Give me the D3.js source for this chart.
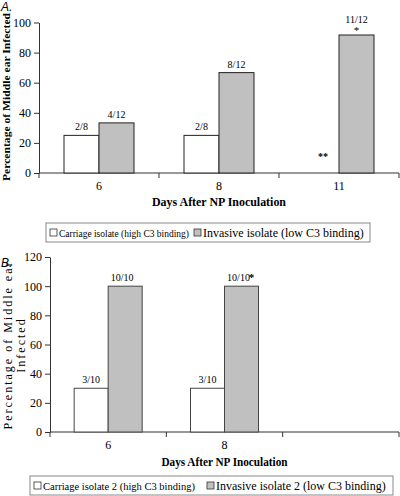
<!DOCTYPE html>
<html><head><meta charset="utf-8">
<script src="https://cdn.jsdelivr.net/npm/d3@7"></script>
<style>body{margin:0;background:#fff}svg{display:block}text{font-family:"Liberation Serif","Times New Roman",serif;fill:#000}</style>
</head><body>
<script>
// ---- Data ----
const catsA = ["6", "8", "11"];
const carriageA = [25, 25, null];
const invasiveA = [33.3, 66.7, 91.7];
const carriageLabelsA = ["2/8", "2/8", ""];
const invasiveLabelsA = ["4/12", "8/12", "11/12"];
const yTicksA = [0, 20, 40, 60, 80, 100];

const catsB = ["6", "8", ""];
const carriageB = [30, 30, null];
const invasiveB = [100, 100, null];
const carriageLabelsB = ["3/10", "3/10", ""];
const invasiveLabelsB = ["10/10", "10/10", ""];
const yTicksB = [0, 20, 40, 60, 80, 100, 120];

const legendA = ["Carriage isolate (high C3 binding)", "Invasive isolate (low C3 binding)"];
const legendB = ["Carriage isolate 2 (high C3 binding)", "Invasive isolate 2 (low C3 binding)"];
const xTitle = "Days After NP Inoculation";
const yTitle = "Percentage of Middle ear Infected";

const svg = d3.select("body").append("svg").attr("width", 400).attr("height", 496);
const AX = "#333", GREY = "#c0c0c0";

// fit a text to a target width by adjusting font size
function fitText(sel, target, base) {
  sel.style("font-size", base + "px");
  const w = sel.node().getComputedTextLength();
  const fs = Math.min(base, base * target / w);
  sel.style("font-size", fs.toFixed(2) + "px");
}

function panel(o) {
  const g = svg.append("g");
  const x = d3.scaleBand().domain(o.cats).range([o.x0, o.x1]);
  const y = d3.scaleLinear().domain([0, o.ymax]).range([o.yb, o.yt]);
  const bw = o.bw;
  const ya = g.append("g").attr("transform", `translate(${o.x0},0)`)
    .call(d3.axisLeft(y).tickValues(o.yticks).tickSize(5).tickSizeOuter(0).tickPadding(3));
  ya.select(".domain").attr("stroke", AX);
  ya.selectAll(".tick line").attr("stroke", AX);
  ya.selectAll(".tick text").style("font-size", "12px").style("font-family", "Liberation Serif");
  g.append("line").attr("x1", o.x0).attr("x2", o.x1).attr("y1", o.yb).attr("y2", o.yb).attr("stroke", AX);
  const bounds = [o.x0].concat(o.cats.map(c => x(c) + x.bandwidth()));
  g.selectAll(".xt").data(bounds).join("line").attr("x1", d => d).attr("x2", d => d)
    .attr("y1", o.yb).attr("y2", o.yb + 5).attr("stroke", AX);
  g.selectAll(".xl").data(o.cats).join("text")
    .attr("x", d => x(d) + x.bandwidth() / 2).attr("y", o.yb + 17)
    .attr("text-anchor", "middle").style("font-size", "12px").text(d => d);
  const cx = c => x(c) + x.bandwidth() / 2;
  o.cats.forEach((c, i) => {
    if (o.car[i] != null) {
      g.append("rect").attr("x", cx(c) - bw).attr("width", bw)
        .attr("y", y(o.car[i])).attr("height", y(0) - y(o.car[i]))
        .attr("fill", "#fff").attr("stroke", o.barStroke);
      g.append("text").attr("x", cx(c) - bw / 2).attr("y", y(o.car[i]) - 5)
        .attr("text-anchor", "middle").style("font-size", "10px").text(o.carL[i]);
    }
    if (o.inv[i] != null) {
      g.append("rect").attr("x", cx(c)).attr("width", bw)
        .attr("y", y(o.inv[i])).attr("height", y(0) - y(o.inv[i]))
        .attr("fill", GREY).attr("stroke", o.barStroke);
    }
  });
  g.append("text").attr("x", (o.x0 + o.x1) / 2 + o.xtDx).attr("y", o.xtY)
    .attr("text-anchor", "middle").style("font-size", "12px").style("font-weight", "bold")
    .attr("textLength", o.xtLen).attr("lengthAdjust", "spacingAndGlyphs").text(xTitle);
  const lg = g.append("g");
  lg.append("rect").attr("x", o.lx0).attr("y", o.ly).attr("width", o.lw).attr("height", 19)
    .attr("fill", "#fff").attr("stroke", "#888");
  const items = [
    {sx: o.lx0 + 4, fill: "#fff", tx: o.lx0 + 13, t: o.leg[0], len: o.lLen[0]},
    {sx: o.lsx2, fill: GREY, tx: o.lsx2 + 9, t: o.leg[1], len: o.lLen[1]}
  ];
  items.forEach(it => {
    lg.append("rect").attr("x", it.sx).attr("y", o.ly + 6).attr("width", 7).attr("height", 7)
      .attr("fill", it.fill).attr("stroke", "#333").attr("stroke-width", 0.8);
    const t = lg.append("text").attr("x", it.tx).attr("y", o.ly + 14).text(it.t);
    fitText(t, it.len, 12);
  });
  return {g, x, y, cx, bw};
}

// ---- Panel A ----
const A = panel({cats: catsA, car: carriageA, inv: invasiveA, carL: carriageLabelsA,
  x0: 39, x1: 399, yb: 173, yt: 22.5, ymax: 100, yticks: yTicksA, bw: 35, barStroke: "#222",
  xtY: 206, xtDx: 0, xtLen: 134,
  lx0: 46, ly: 223, lw: 324, lsx2: 194, leg: legendA, lLen: [130, 161]});
catsA.forEach((c, i) => {
  if (i < 2) A.g.append("text").attr("x", A.cx(c) + A.bw / 2).attr("y", A.y(invasiveA[i]) - 5)
    .attr("text-anchor", "middle").style("font-size", "10px").text(invasiveLabelsA[i]);
});
A.g.append("text").attr("x", A.cx("11") + A.bw / 2).attr("y", 23)
  .attr("text-anchor", "middle").style("font-size", "10px").text(invasiveLabelsA[2]);
A.g.append("text").attr("x", A.cx("11") + A.bw / 2).attr("y", 34)
  .attr("text-anchor", "middle").style("font-size", "11px").text("*");
A.g.append("text").attr("x", 323).attr("y", 160)
  .attr("text-anchor", "middle").style("font-size", "10px").style("font-weight", "bold").text("**");
A.g.append("text").attr("transform", "translate(10,97) rotate(-90)").attr("text-anchor", "middle")
  .style("font-size", "11px").style("font-weight", "bold")
  .attr("textLength", 168).attr("lengthAdjust", "spacingAndGlyphs").text(yTitle);
svg.append("text").attr("x", 1).attr("y", 11).style("font-family", "Liberation Sans")
  .style("font-style", "italic").style("font-size", "12px").text("A.");

// ---- Panel B ----
const B = panel({cats: catsB, car: carriageB, inv: invasiveB, carL: carriageLabelsB,
  x0: 50, x1: 399, yb: 432, yt: 257, ymax: 120, yticks: yTicksB, bw: 34, barStroke: "#444",
  xtY: 466, xtDx: 0, xtLen: 126,
  lx0: 30, ly: 476, lw: 363, lsx2: 207, leg: legendB, lLen: [152, 172]});
B.x.domain().forEach((c, i) => {
  if (invasiveB[i] != null) {
    B.g.append("text").attr("x", B.cx(c) + B.bw / 2 - 3).attr("y", B.y(invasiveB[i]) - 5)
      .attr("text-anchor", "middle").style("font-size", "10px").text(invasiveLabelsB[i]);
    if (i === 1) B.g.append("text").attr("x", B.cx(c) + B.bw / 2 + 10).attr("y", 281)
      .attr("text-anchor", "middle").style("font-size", "11px").style("font-weight", "bold").text("*");
  }
});
const yt = B.g.append("text").attr("transform", "translate(0,345) rotate(-90)").attr("text-anchor", "middle")
  .style("font-size", "12px").style("letter-spacing", "2px");
yt.append("tspan").attr("x", 0).attr("y", 12).text("Percentage of Middle ear");
yt.append("tspan").attr("x", 0).attr("y", 25).text("Infected");
svg.append("text").attr("x", 1).attr("y", 267).style("font-family", "Liberation Sans")
  .style("font-style", "italic").style("font-size", "12px").text("B.");
</script>
</body></html>
